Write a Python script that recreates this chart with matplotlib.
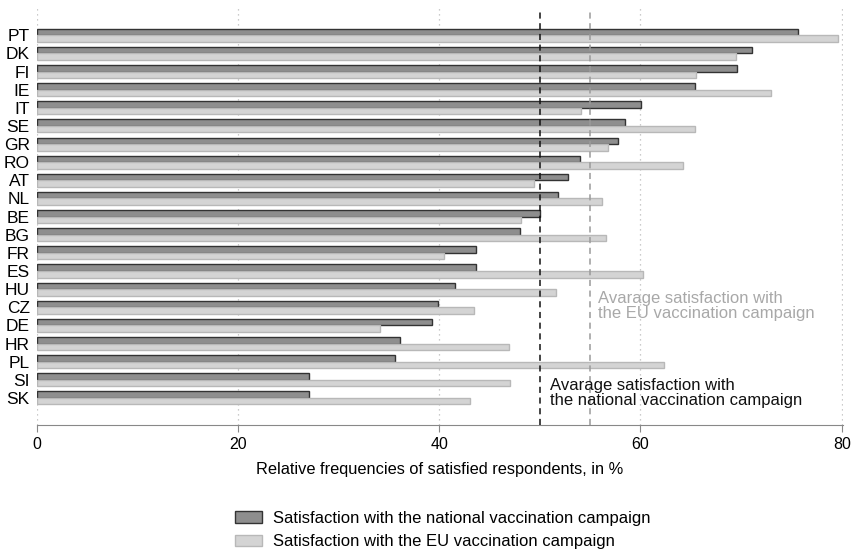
import numpy as np
import matplotlib
matplotlib.use('Agg')
import matplotlib.pyplot as plt
from matplotlib.patches import Patch

plt.rcParams['font.family'] = ['Liberation Sans', 'DejaVu Sans']

# ---- data -------------------------------------------------------
countries = ['PT', 'DK', 'FI', 'IE', 'IT', 'SE', 'GR', 'RO', 'AT', 'NL', 'BE',
             'BG', 'FR', 'ES', 'HU', 'CZ', 'DE', 'HR', 'PL', 'SI', 'SK']
national = [75.7, 71.1, 69.6, 65.4, 60.1, 58.5, 57.8, 54.0, 52.8, 51.8, 50.0,
            48.0, 43.7, 43.7, 41.6, 39.9, 39.3, 36.1, 35.6, 27.1, 27.1]
eu = [79.6, 69.5, 65.5, 73.0, 54.1, 65.4, 56.8, 64.2, 49.4, 56.2, 48.1,
      56.6, 40.5, 60.2, 51.6, 43.5, 34.1, 46.9, 62.3, 47.0, 43.1]
avg_national = 50.0
avg_eu = 55.0
xticks = [0, 20, 40, 60, 80]

# ---- styling ----------------------------------------------------
DARK_FILL, DARK_EDGE = '#8e8e8e', '#333333'
LIGHT_FILL, LIGHT_EDGE = '#d4d4d4', '#b8b8b8'

fig = plt.figure(figsize=(8.53, 5.54), dpi=100)
ax = fig.add_axes([0.043, 0.233, 0.945, 0.752])

y = np.arange(len(countries))
h = 0.36
ax.barh(y - h / 2, national, height=h, color=DARK_FILL, edgecolor=DARK_EDGE,
        linewidth=1.0, zorder=3)
ax.barh(y + h / 2, eu, height=h, color=LIGHT_FILL, edgecolor=LIGHT_EDGE,
        linewidth=1.0, zorder=3)

# reference lines
ax.axvline(avg_national, color='#111111', linestyle=(0, (4, 3)), linewidth=1.1, zorder=4)
ax.axvline(avg_eu, color='#9a9a9a', linestyle=(0, (4, 3)), linewidth=1.1, zorder=4)

ax.text(55.8, 14.93, 'Avarage satisfaction with\nthe EU vaccination campaign',
        color='#a8a8a8', fontsize=12, va='center', ha='left', linespacing=1.0, zorder=5)
ax.text(51.0, 19.75, 'Avarage satisfaction with\nthe national vaccination campaign',
        color='#111111', fontsize=12, va='center', ha='left', linespacing=1.0, zorder=5)

# axes
ax.set_xlim(0, 80.1)
ax.set_ylim(len(countries) - 1 + 1.49, -1.49)
ax.set_yticks(y)
ax.set_yticklabels(countries, fontsize=12.5)
ax.tick_params(axis='y', length=0, pad=5)
ax.set_xticks(xticks)
ax.tick_params(axis='x', length=5, color='#888888', labelsize=11.5, pad=4)
ax.grid(axis='x', linestyle=(0, (1, 3)), color='#bbbbbb', linewidth=0.9, zorder=0)
for side in ['top', 'right', 'left']:
    ax.spines[side].set_visible(False)
ax.spines['bottom'].set_color('#888888')
ax.set_xlabel('Relative frequencies of satisfied respondents, in %', fontsize=11.8, labelpad=7)

handles = [Patch(facecolor=DARK_FILL, edgecolor=DARK_EDGE, label='Satisfaction with the national vaccination campaign'),
           Patch(facecolor=LIGHT_FILL, edgecolor=LIGHT_EDGE, label='Satisfaction with the EU vaccination campaign')]
fig.legend(handles=handles, loc='upper left', bbox_to_anchor=(0.2755, 0.078),
           frameon=False, fontsize=12, handlelength=1.6, handleheight=0.7,
           labelspacing=0.52, handletextpad=0.65, borderpad=0, borderaxespad=0)

fig.savefig('out.png', dpi=100)
